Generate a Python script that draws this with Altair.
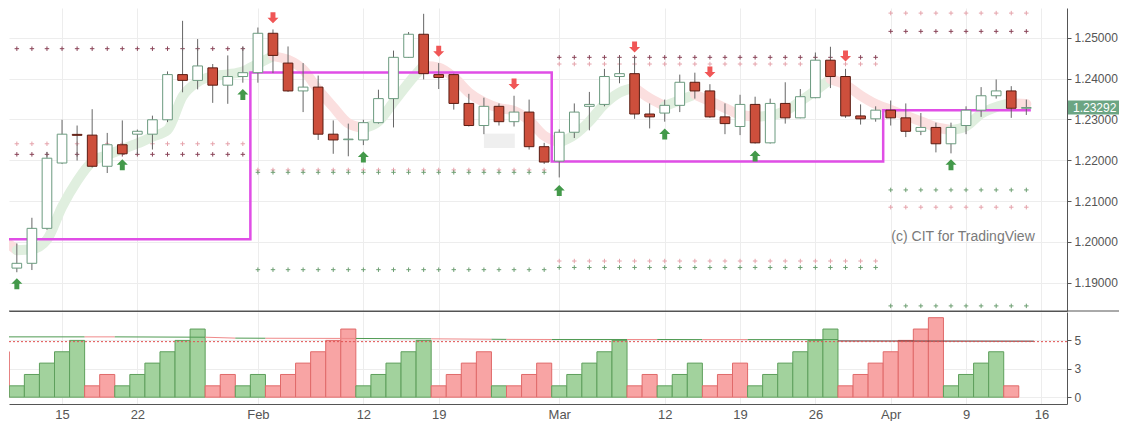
import altair as alt
import pandas as pd

# ---------------- values (EUR/USD daily) ----------------
# trading-day index 0 = 10 Jan ... 67 = 13 Apr
opens = [1.19360, 1.19478, 1.20334, 1.21934, 1.22635, 1.22617, 1.21854, 1.22381, 1.22640, 1.22640,
         1.22993, 1.24099, 1.23958, 1.24264, 1.23840, 1.24052, 1.24146, 1.25111, 1.24381, 1.23699,
         1.23793, 1.22640, 1.22505, 1.22499, 1.22922, 1.23511, 1.24522, 1.25087, 1.24099, 1.24099,
         1.23393, 1.22852, 1.23322, 1.22946, 1.23181, 1.22334, 1.21981, 1.22687, 1.23322, 1.23369,
         1.24052, 1.24122, 1.23134, 1.23157, 1.23346, 1.23911, 1.23699, 1.23064, 1.22828, 1.23369,
         1.22428, 1.23393, 1.23040, 1.23534, 1.24452, 1.24052, 1.23087, 1.23016, 1.23228, 1.23040,
         1.22711, 1.22805, 1.22405, 1.22852, 1.23228, 1.23581, 1.23699, 1.23275]
highs = [1.19965, 1.20593, 1.22207, 1.22993, 1.22852, 1.23252, 1.22671, 1.22977, 1.22753, 1.23094,
         1.24177, 1.25416, 1.24969, 1.24358, 1.24569, 1.24781, 1.25252, 1.25205, 1.24788, 1.24381,
         1.24075, 1.22977, 1.22899, 1.22993, 1.23729, 1.24687, 1.25141, 1.25588, 1.24381, 1.24122,
         1.23628, 1.23534, 1.23393, 1.23581, 1.23487, 1.22428, 1.22758, 1.23393, 1.23675, 1.24240,
         1.24536, 1.24536, 1.23393, 1.23487, 1.24099, 1.24146, 1.23864, 1.23393, 1.23605, 1.23558,
         1.23511, 1.23911, 1.23746, 1.24640, 1.24781, 1.24240, 1.23369, 1.23322, 1.23464, 1.23393,
         1.23158, 1.22922, 1.22922, 1.23322, 1.23793, 1.23981, 1.23816, 1.23487]
lows = [1.19259, 1.19313, 1.20300, 1.21911, 1.21995, 1.21824, 1.21689, 1.22129, 1.22146, 1.22264,
        1.22936, 1.23666, 1.23737, 1.23407, 1.23384, 1.23901, 1.23901, 1.24137, 1.23675, 1.23181,
        1.22499, 1.22160, 1.22099, 1.22372, 1.22899, 1.22805, 1.24510, 1.23981, 1.23746, 1.23242,
        1.22828, 1.22640, 1.22852, 1.22828, 1.22264, 1.21911, 1.21581, 1.22546, 1.22734, 1.23322,
        1.23887, 1.23016, 1.22781, 1.22946, 1.23181, 1.23511, 1.23040, 1.22640, 1.22617, 1.22410,
        1.22410, 1.22899, 1.23030, 1.23520, 1.23769, 1.23040, 1.22875, 1.22946, 1.22852, 1.22569,
        1.22617, 1.22194, 1.22170, 1.22640, 1.23064, 1.23511, 1.23040, 1.23111]
closes = [1.19478, 1.20334, 1.22052, 1.22640, 1.22612, 1.21854, 1.22381, 1.22160, 1.22711, 1.22993,
          1.24099, 1.23958, 1.24311, 1.23840, 1.24052, 1.24146, 1.25111, 1.24569, 1.23699, 1.23793,
          1.22640, 1.22499, 1.22520, 1.22922, 1.23511, 1.24522, 1.25087, 1.24122, 1.24028, 1.23393,
          1.22852, 1.23322, 1.22946, 1.23181, 1.22334, 1.21958, 1.22687, 1.23181, 1.23369, 1.24052,
          1.24122, 1.23134, 1.23064, 1.23346, 1.23911, 1.23699, 1.23064, 1.22899, 1.23369, 1.22428,
          1.23393, 1.23040, 1.23558, 1.24452, 1.24052, 1.23087, 1.23016, 1.23228, 1.23040, 1.22711,
          1.22805, 1.22405, 1.22805, 1.23228, 1.23581, 1.23699, 1.23275, 1.23292]

tick_idx = [3, 8, 16, 23, 28, 36, 43, 48, 53, 58, 63, 68]
tick_text = ["15", "22", "Feb", "12", "19", "Mar", "12", "19", "26", "Apr", "9", "16"]
price_ticks = [1.19, 1.20, 1.21, 1.22, 1.23, 1.24, 1.25]
hist_ticks = [0, 2.5, 5]

# smoothed trend band, index -1 .. 67
band_first = -1
band_vals = [1.20082, 1.19800, 1.19824, 1.20059, 1.20859, 1.21494, 1.21965, 1.22129, 1.22271, 1.22412,
             1.22577, 1.22741, 1.23565, 1.23918, 1.24059, 1.24106, 1.24177, 1.24365, 1.24553, 1.24459,
             1.24224, 1.23729, 1.23306, 1.22906, 1.22788, 1.22953, 1.23424, 1.23894, 1.24318, 1.24271,
             1.24035, 1.23659, 1.23424, 1.23282, 1.23212, 1.22976, 1.22600, 1.22435, 1.22623, 1.22953,
             1.23377, 1.23659, 1.23777, 1.23518, 1.23329, 1.23471, 1.23612, 1.23447, 1.23282, 1.23118,
             1.23071, 1.23094, 1.23212, 1.23447, 1.23706, 1.23988, 1.23847, 1.23588, 1.23377, 1.23235,
             1.23094, 1.22953, 1.22812, 1.22741, 1.22835, 1.23141, 1.23306, 1.23400, 1.23377]

# monthly open step line
month_from = [-1, 15.5, 35.5, 57.5]
month_to = [15.5, 35.5, 57.5, 67.3]
month_open = [1.20066, 1.24153, 1.21972, 1.23228]

# dotted pivot levels
lvl_from = [0, 0, 0, 16, 16, 16, 36, 36, 36, 36, 58, 58, 58, 58, 58]
lvl_to = [15, 15, 15, 35, 35, 35, 57, 57, 57, 57, 67, 67, 67, 67, 67]
lvl_price = [1.24734, 1.22405, 1.22146, 1.21765, 1.21706, 1.19322, 1.24522, 1.24358, 1.19534, 1.19376,
             1.25605, 1.25158, 1.21275, 1.20852, 1.18435]
lvl_kind = ["dark", "light", "dark", "light", "green", "green", "dark", "light", "light", "green",
            "light", "dark", "green", "light", "green"]

# signal arrows
up_idx = [0, 7, 15, 23, 36, 43, 49, 62]
up_price = [1.18976, 1.21894, 1.23612, 1.22082, 1.21259, 1.22647, 1.22106, 1.21894]
down_idx = [17, 28, 33, 41, 46, 55]
down_price = [1.25494, 1.24671, 1.23871, 1.24772, 1.24160, 1.24553]

# grey box
box_idx = [31.0, 33.05]
box_price = [1.22301, 1.22654]

# watermark
note_text = "(c) CIT for TradingView"
note_idx = 62.8
note_price = 1.2013

# lower panel: count histogram, index -1 .. 66
hist_first = -1
hist_vals = [4, 1, 2, 3, 4, 5, 1, 2, 1, 2, 3, 4, 5, 6, 1, 2, 1, 2, 1, 2, 3, 4, 5, 6, 1, 2, 3, 4, 5,
             1, 2, 3, 4, 1, 1, 2, 3, 1, 2, 3, 4, 5, 1, 2, 1, 2, 3, 1, 2, 3, 1, 2, 3, 4, 5, 6,
             1, 2, 3, 4, 5, 6, 7, 1, 2, 3, 4, 1]
hist_dir = list("R" + "G" * 5 + "R" * 2 + "G" * 6 + "R" * 2 + "G" * 2 + "R" * 6 + "G" * 5 + "R" * 4 +
                "G" + "R" * 3 + "G" * 5 + "R" * 2 + "G" * 3 + "R" * 3 + "G" * 6 + "R" * 7 + "G" * 4 + "R")

# lower panel average line segments
seg_from = [-1, 4.5, 6.5, 12.5, 14.5, 16.5, 22.5, 27.5, 31.5, 32.5, 35.5, 40.5, 42.5, 45.5, 48.5, 54.5]
seg_to = [4.5, 6.5, 12.5, 14.5, 16.5, 22.5, 27.5, 31.5, 32.5, 35.5, 40.5, 42.5, 45.5, 48.5, 54.5, 67.5]
seg_v0 = [5.31, 5.31, 5.31, 5.28, 5.20, 5.19, 5.17, 5.14, 5.10, 5.09, 5.08, 5.08, 5.08, 5.07, 5.07, 4.95]
seg_v1 = [5.31, 5.31, 5.28, 5.20, 5.19, 5.17, 5.14, 5.10, 5.09, 5.08, 5.08, 5.08, 5.07, 5.07, 5.07, 4.93]
seg_dir = ["G", "R", "G", "R", "G", "R", "G", "R", "G", "R", "G", "R", "G", "R", "G", "D"]
signal_level = 4.89

# ---------------- tables ----------------
n = len(opens)
candles = pd.DataFrame({"i": list(range(n)), "open": opens, "high": highs, "low": lows, "close": closes})
candles["dir"] = ["up" if c >= o else "down" for o, c in zip(opens, closes)]
candles["b0"] = candles["i"] - 0.32
candles["b1"] = candles["i"] + 0.32

band_rows = []
run = 0
prev = None
for k in range(len(band_vals) - 1):
    d = "up" if band_vals[k + 1] >= band_vals[k] else "down"
    if d != prev:
        run += 1
        band_rows.append({"i": k + band_first, "v": band_vals[k], "run": run, "dir": d})
        prev = d
    band_rows.append({"i": k + 1 + band_first, "v": band_vals[k + 1], "run": run, "dir": d})
band = pd.DataFrame(band_rows)

mrows = []
kk = 0
for a, b, p in zip(month_from, month_to, month_open):
    mrows.append({"i": a, "p": p, "k": kk}); kk += 1
    mrows.append({"i": b, "p": p, "k": kk}); kk += 1
month = pd.DataFrame(mrows)

lrows = []
for a, b, p, kd in zip(lvl_from, lvl_to, lvl_price, lvl_kind):
    for i in range(a, b + 1):
        lrows.append({"i": i, "p": p, "kind": kd})
levels = pd.DataFrame(lrows)

ups = pd.DataFrame({"i": up_idx, "p": up_price})
downs = pd.DataFrame({"i": down_idx, "p": down_price})
box = pd.DataFrame({"x0": [box_idx[0]], "x1": [box_idx[1]], "p0": [box_price[0]], "p1": [box_price[1]]})
note = pd.DataFrame({"i": [note_idx], "p": [note_price], "t": [note_text]})
last = pd.DataFrame({"p": [closes[-1]]})

hist = pd.DataFrame({"i": list(range(hist_first, hist_first + len(hist_vals))), "v": hist_vals, "dir": hist_dir})
hist["x0"] = hist["i"] - 0.5
hist["x1"] = hist["i"] + 0.5
hist["base"] = 0

srows = []
for s, (a, b, v0, v1, d) in enumerate(zip(seg_from, seg_to, seg_v0, seg_v1, seg_dir)):
    srows.append({"i": a, "v": v0, "seg": s, "dir": d})
    srows.append({"i": b, "v": v1, "seg": s, "dir": d})
segs = pd.DataFrame(srows)
sig = pd.DataFrame({"v": [signal_level]})

# ---------------- chart ----------------
W, H1, H2 = 1058, 303, 92
FONT = "Liberation Sans"
AXC = "#555555"
GRID = "#ededed"

xscale = alt.Scale(domain=[-0.52, 69.7], nice=False, zero=False)
yscale = alt.Scale(domain=[1.1831, 1.2573], nice=False, zero=False)
hscale = alt.Scale(domain=[-0.6, 7.5], nice=False, zero=False)

xax_main = alt.Axis(values=tick_idx, labels=False, ticks=False, grid=True, gridColor=GRID,
                    domain=True, domainColor=AXC, title=None, zindex=0)
yax_main = alt.Axis(orient="right", values=price_ticks, format=".5f", title=None, grid=True,
                    gridColor=GRID, domain=True, domainColor=AXC, tickColor=AXC, tickSize=4,
                    labelPadding=3, labelFontSize=12, labelColor=AXC, labelFont=FONT, zindex=0)
label_expr = " : ".join(f"datum.value == {v} ? '{t}'" for v, t in zip(tick_idx, tick_text)) + " : ''"
xax_low = alt.Axis(values=tick_idx, labelExpr=label_expr, ticks=False, grid=True, gridColor=GRID,
                   domain=True, domainColor=AXC, title=None, labelFontSize=13, labelColor=AXC,
                   labelFont=FONT, labelPadding=4, labelFlush=False, labelOverlap=False, zindex=0)
yax_low = alt.Axis(orient="right", values=hist_ticks, format=".0f", title=None, grid=True,
                   gridColor=GRID, domain=True, domainColor=AXC, tickColor=AXC, tickSize=4,
                   labelPadding=3, labelFontSize=12, labelColor=AXC, labelFont=FONT, zindex=0)


def X(f):
    return alt.X(f, type="quantitative", scale=xscale, axis=xax_main)


def Y(f):
    return alt.Y(f, type="quantitative", scale=yscale, axis=yax_main)


CROSS = "M-1,0L1,0M0,-1L0,1"
UP = "M0,-1L1,0L0.45,0L0.45,1L-0.45,1L-0.45,0L-1,0Z"
DOWN = "M0,1L1,0L0.45,0L0.45,-1L-0.45,-1L-0.45,0L-1,0Z"

l_levels = alt.Chart(levels).mark_point(shape=CROSS, filled=False, size=20, strokeWidth=1, opacity=1).encode(
    x=X("i"), y=Y("p"),
    color=alt.Color("kind:N", scale=alt.Scale(domain=["dark", "light", "green"],
                                               range=["#8a4458", "#e5a3ab", "#6d9f72"]), legend=None))
l_band = alt.Chart(band).mark_line(strokeWidth=10, strokeCap="round", strokeJoin="round",
                                   interpolate="monotone", clip=True).encode(
    x=X("i"), y=Y("v"), detail="run:N",
    color=alt.Color("dir:N", scale=alt.Scale(domain=["up", "down"], range=["#e0efdf", "#fbdfdf"]), legend=None))
l_box = alt.Chart(box).mark_rect(color="#efefef").encode(x=X("x0"), x2="x1", y=Y("p0"), y2="p1")
l_month = alt.Chart(month).mark_line(color="#e04ee6", strokeWidth=2.5, clip=True).encode(
    x=X("i"), y=Y("p"), order="k:Q")
l_wick = alt.Chart(candles).mark_rule(color="#666666", strokeWidth=1).encode(x=X("i"), y=Y("low"), y2="high")
l_body = alt.Chart(candles).mark_rect(strokeWidth=1).encode(
    x=X("b0"), x2="b1", y=Y("open"), y2="close",
    fill=alt.Fill("dir:N", scale=alt.Scale(domain=["up", "down"], range=["#ffffff", "#cd4f3c"]), legend=None),
    stroke=alt.Stroke("dir:N", scale=alt.Scale(domain=["up", "down"], range=["#6b9a7f", "#5a1c12"]), legend=None))
l_up = alt.Chart(ups).mark_point(shape=UP, filled=True, size=121, opacity=1, color="#43994a").encode(
    x=X("i"), y=Y("p"))
l_down = alt.Chart(downs).mark_point(shape=DOWN, filled=True, size=121, opacity=1, color="#f05656").encode(
    x=X("i"), y=Y("p"))
l_note = alt.Chart(note).mark_text(font=FONT, fontSize=14, color="#7a7a7a", align="center",
                                   baseline="middle").encode(x=X("i"), y=Y("p"), text="t:N")
l_last_box = alt.Chart(last).transform_calculate(p0="datum.p - 0.0017", p1="datum.p + 0.0017").mark_rect(
    color="#6ba583").encode(x=alt.value(W + 1), x2=alt.value(W + 52), y=Y("p0"), y2="p1")
l_last_txt = alt.Chart(last).mark_text(font=FONT, fontSize=12, color="white", align="left",
                                       baseline="middle").encode(
    x=alt.value(W + 6), y=Y("p"), text=alt.Text("p:Q", format=".5f"))
l_div = alt.Chart(last).mark_rule(color=AXC, strokeWidth=1).encode(
    x=alt.value(0), x2=alt.value(W + 52), y=alt.value(H1))

main = alt.layer(l_levels, l_band, l_box, l_month, l_wick, l_body, l_up, l_down, l_note,
                 l_last_box, l_last_txt, l_div).resolve_scale(
    color="independent", fill="independent", stroke="independent").properties(width=W, height=H1)


def XL(f):
    return alt.X(f, type="quantitative", scale=xscale, axis=xax_low)


def YL(f):
    return alt.Y(f, type="quantitative", scale=hscale, axis=yax_low)


b_hist = alt.Chart(hist).mark_rect(strokeWidth=1, clip=True).encode(
    x=XL("x0"), x2="x1", y=YL("v"), y2="base",
    fill=alt.Fill("dir:N", scale=alt.Scale(domain=["G", "R"], range=["#a2d29d", "#f8a4a4"]), legend=None),
    stroke=alt.Stroke("dir:N", scale=alt.Scale(domain=["G", "R"], range=["#5e9f5c", "#e06a6a"]), legend=None))
b_seg = alt.Chart(segs).mark_line(strokeWidth=1, clip=True).encode(
    x=XL("i"), y=YL("v"), detail="seg:N",
    color=alt.Color("dir:N", scale=alt.Scale(domain=["G", "R", "D"], range=["#4f9a52", "#ef8a8a", "#5d3535"]),
                    legend=None))
b_sig = alt.Chart(sig).mark_rule(color="#e05050", strokeDash=[2, 2], strokeWidth=1).encode(y=YL("v"))

low = alt.layer(b_hist, b_seg, b_sig).resolve_scale(
    color="independent", fill="independent", stroke="independent").properties(width=W, height=H2)

chart = alt.vconcat(main, low, spacing=0).resolve_scale(x="independent", y="independent").properties(
    padding={"left": 0, "top": 0, "right": 0, "bottom": 0}, background="white"
).configure_view(stroke=None).configure_axis(labelFont=FONT)

chart.save("out.html", embed_options={"renderer": "svg", "actions": False})
